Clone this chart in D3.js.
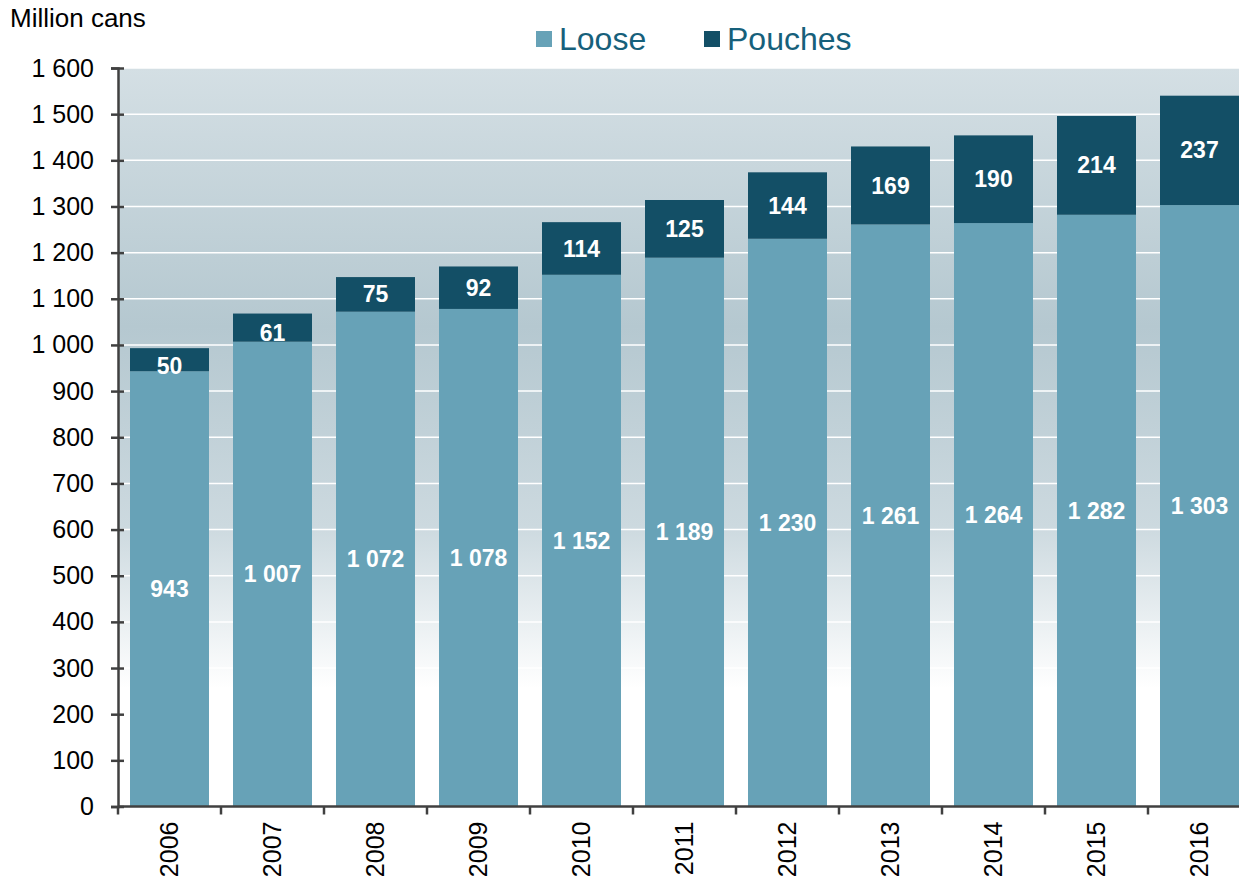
<!DOCTYPE html>
<html lang="en">
<head>
    <meta charset="UTF-8">
    <title>Million cans - Loose and Pouches</title>
    <script src="https://d3js.org/d3.v7.min.js"></script>
    <style>
        body { margin: 0; background: #fff; }
        svg { display: block; font-family: "Liberation Sans", Arial, sans-serif; }
    </style>
</head>
<body>
    <svg id="chart"></svg>
    <script>
        var years = ["2006", "2007", "2008", "2009", "2010", "2011", "2012", "2013", "2014", "2015", "2016"];
        var loose = [943, 1007, 1072, 1078, 1152, 1189, 1230, 1261, 1264, 1282, 1303];
        var pouches = [50, 61, 75, 92, 114, 125, 144, 169, 190, 214, 237];
        var yTicks = [0, 100, 200, 300, 400, 500, 600, 700, 800, 900, 1000, 1100, 1200, 1300, 1400, 1500, 1600];

        var W = 1239, H = 882;
        var plotLeft = 118, plotTop = 68, plotBottom = 806.5;
        var step = 103;
        var plotRight = plotLeft + step * years.length;

        var svg = d3.select("#chart").attr("width", W).attr("height", H);

        var fmt = function(v) { return d3.format(",")(v).replace(/,/g, " "); };

        var x = d3.scaleBand().domain(years).range([plotLeft, plotRight]).paddingInner(0.233).paddingOuter(0.1165);
        var y = d3.scaleLinear().domain([0, 1600]).range([plotBottom, plotTop]);

        var grad = svg.append("defs").append("linearGradient")
            .attr("id", "bg").attr("x1", 0).attr("y1", 0).attr("x2", 0).attr("y2", 1);
        grad.append("stop").attr("offset", "0%").attr("stop-color", "#d4dfe4");
        grad.append("stop").attr("offset", "35%").attr("stop-color", "#b5c8d0");
        grad.append("stop").attr("offset", "62%").attr("stop-color", "#ccd9df");
        grad.append("stop").attr("offset", "84%").attr("stop-color", "#ffffff");
        grad.append("stop").attr("offset", "100%").attr("stop-color", "#ffffff");

        svg.append("rect")
            .attr("x", plotLeft).attr("y", plotTop)
            .attr("width", W - plotLeft).attr("height", plotBottom - plotTop)
            .attr("fill", "url(#bg)");

        // gridlines
        svg.append("g").selectAll("line")
            .data(yTicks.filter(function(d) { return d > 0; }))
            .join("line")
            .attr("x1", plotLeft).attr("x2", W)
            .attr("y1", function(d) { return y(d); }).attr("y2", function(d) { return y(d); })
            .attr("stroke", "#ffffff").attr("stroke-width", 1.5);

        // bars
        var groups = svg.append("g").selectAll("g")
            .data(years)
            .join("g");

        groups.append("rect")
            .attr("x", function(d) { return x(d); })
            .attr("width", x.bandwidth())
            .attr("y", function(d, i) { return y(loose[i]); })
            .attr("height", function(d, i) { return y(0) - y(loose[i]); })
            .attr("fill", "#67a2b7");

        groups.append("rect")
            .attr("x", function(d) { return x(d); })
            .attr("width", x.bandwidth())
            .attr("y", function(d, i) { return y(loose[i] + pouches[i]); })
            .attr("height", function(d, i) { return y(loose[i]) - y(loose[i] + pouches[i]); })
            .attr("fill", "#134f66");

        groups.append("text")
            .attr("x", function(d) { return x(d) + x.bandwidth() / 2; })
            .attr("y", function(d, i) { return y(loose[i] / 2); })
            .attr("dy", "0.35em")
            .attr("text-anchor", "middle")
            .attr("fill", "#fff").attr("font-weight", "bold").attr("font-size", "23px")
            .text(function(d, i) { return fmt(loose[i]); });

        groups.append("text")
            .attr("x", function(d) { return x(d) + x.bandwidth() / 2; })
            .attr("y", function(d, i) { return y(loose[i] + pouches[i] / 2); })
            .attr("dy", function(d, i) { return pouches[i] < 70 ? "0.6em" : "0.35em"; })
            .attr("text-anchor", "middle")
            .attr("fill", "#fff").attr("font-weight", "bold").attr("font-size", "23px")
            .text(function(d, i) { return fmt(pouches[i]); });

        // y axis
        var yAxis = svg.append("g")
            .attr("transform", "translate(" + plotLeft + ",0)")
            .call(d3.axisLeft(y).tickValues(yTicks).tickSize(7).tickPadding(17).tickFormat(fmt));
        yAxis.select(".domain").attr("stroke", "#404040").attr("stroke-width", 2.5);
        yAxis.selectAll(".tick line").attr("stroke", "#404040").attr("stroke-width", 2.5).attr("x2", -7).attr("x1", 6);
        yAxis.selectAll(".tick text").attr("font-size", "25px").attr("fill", "#000")
            .attr("font-family", "Liberation Sans, Arial, sans-serif");

        // x axis with ticks between categories
        var xAxis = svg.append("g").attr("transform", "translate(0," + plotBottom + ")");
        xAxis.append("line")
            .attr("x1", plotLeft).attr("x2", W)
            .attr("stroke", "#404040").attr("stroke-width", 2.5);
        xAxis.selectAll("line.tk")
            .data(years)
            .join("line").attr("class", "tk")
            .attr("x1", function(d) { return x(d) - x.step() * x.paddingOuter(); })
            .attr("x2", function(d) { return x(d) - x.step() * x.paddingOuter(); })
            .attr("y1", 0).attr("y2", 8)
            .attr("stroke", "#404040").attr("stroke-width", 2.5);
        xAxis.selectAll("text")
            .data(years)
            .join("text")
            .attr("transform", function(d) {
                return "translate(" + (x(d) + x.bandwidth() / 2) + ",15) rotate(-90)";
            })
            .attr("dy", "0.35em")
            .attr("text-anchor", "end")
            .attr("font-size", "25px").attr("fill", "#000")
            .text(function(d) { return d; });

        // unit label
        svg.append("text")
            .attr("x", 10).attr("y", 27)
            .attr("font-size", "26px").attr("fill", "#000")
            .text("Million cans");

        // legend
        var legend = svg.append("g").attr("transform", "translate(536,31)");
        var legendItems = [["Loose", "#67a2b7", 0], ["Pouches", "#134f66", 168]];
        legendItems.forEach(function(item) {
            legend.append("rect")
                .attr("x", item[2]).attr("y", 0)
                .attr("width", 16).attr("height", 16)
                .attr("fill", item[1]);
            legend.append("text")
                .attr("x", item[2] + 23).attr("y", 8)
                .attr("dy", "0.35em")
                .attr("font-size", "32px").attr("fill", "#16607b")
                .text(item[0]);
        });
    </script>
</body>
</html>
